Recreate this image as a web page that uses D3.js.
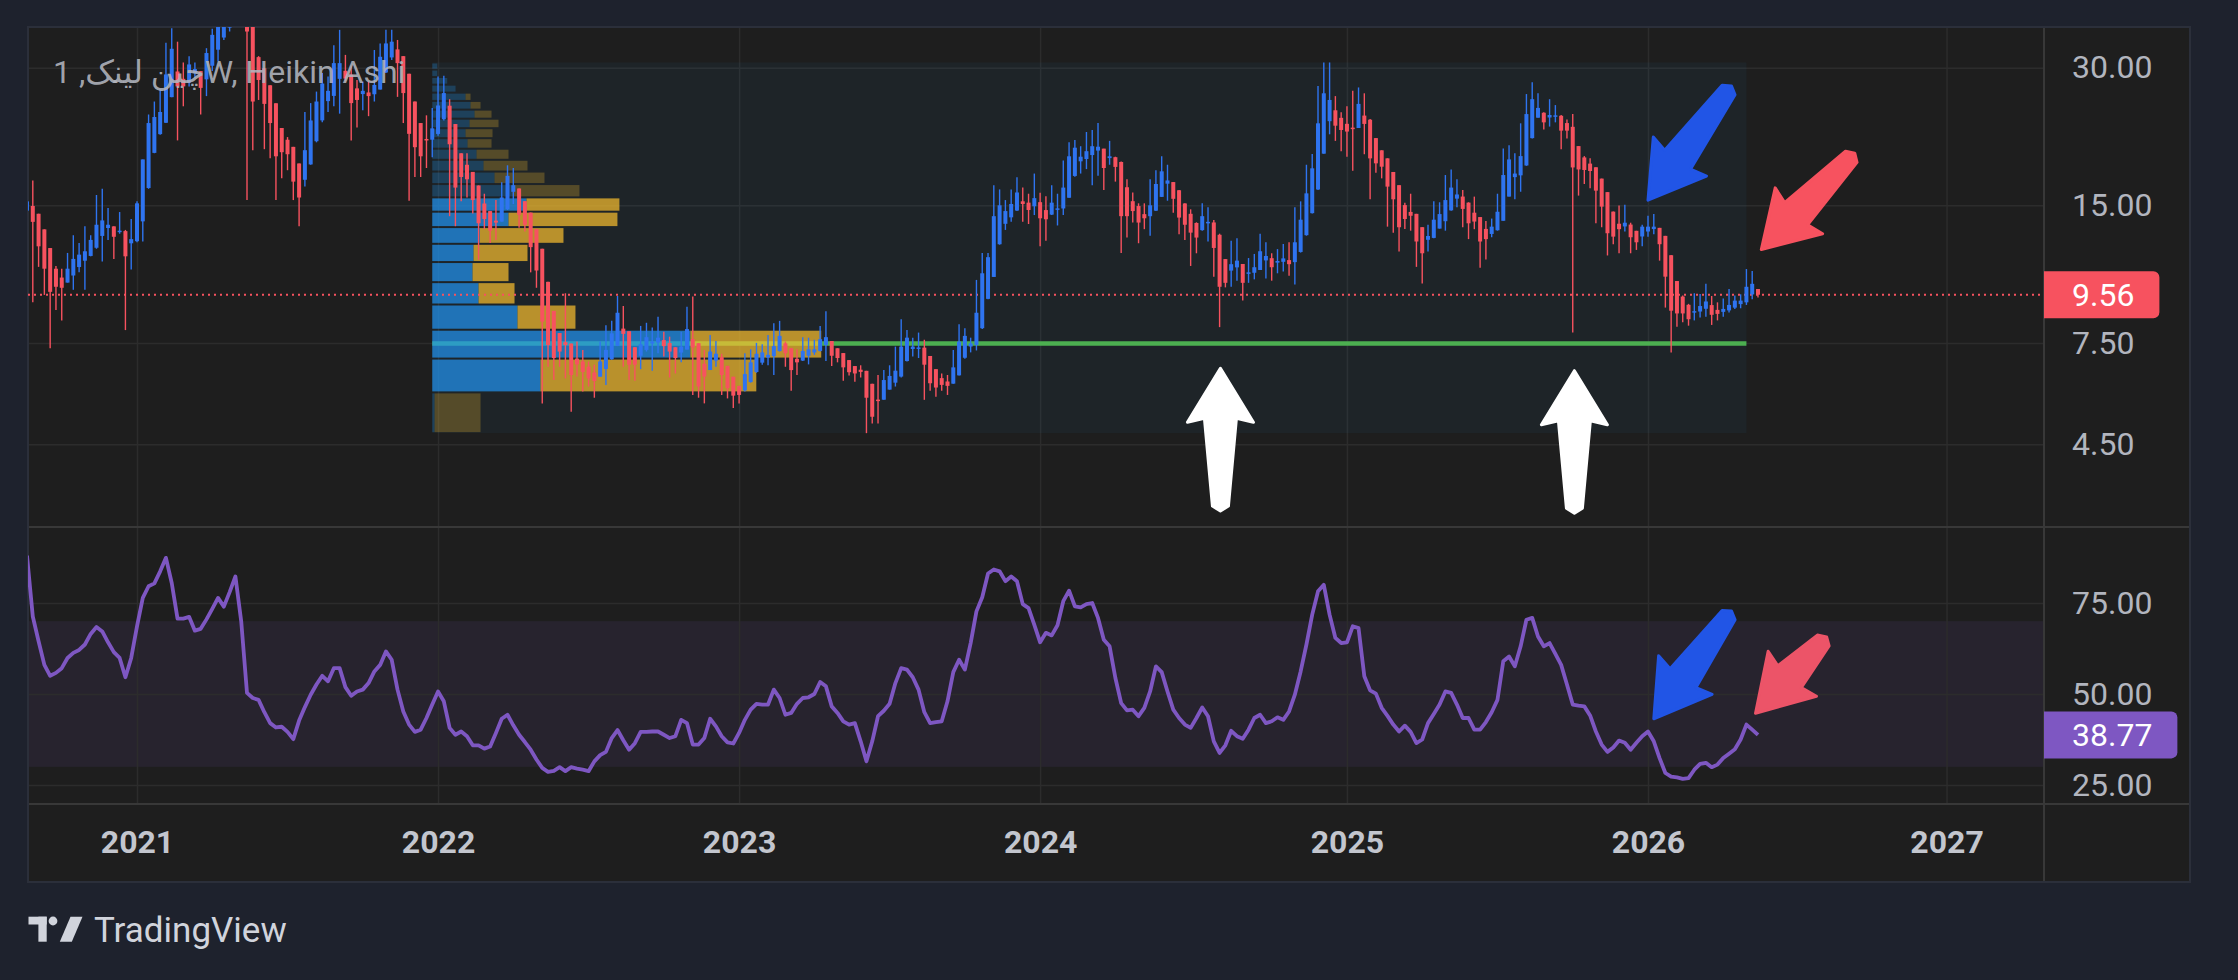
<!DOCTYPE html>
<html>
<head>
<meta charset="utf-8">
<script src="https://cdn.jsdelivr.net/npm/d3@7"></script>
<style>
  body { margin: 0; background: #1e222d; }
  svg { display: block; }
  text { font-family: Roboto, "Noto Sans", "DejaVu Sans", sans-serif; }
</style>
</head>
<body>
<svg id="chart" width="2238" height="980"></svg>
<script>
// ---- data (weekly Heikin Ashi) ----
var firstWeek = "2020-08-24";
var firstOpen = 14.6;

var haClose = [
  15.3, 13.8, 12.2, 10.9, 9.7, 9.95, 9.9, 10.9, 11.45, 11.7,
  11.9, 12.6, 13.6, 13.9, 13.6, 12.8, 13.2, 11.6, 12.65, 15.15,
  18.9, 22.7, 23.4, 24.0, 29.0, 33.0, 27.3, 27.3, 30.5, 29.8,
  27.1, 32.3, 35.4, 37, 38.5, 39, 40, 41, 36, 25.3,
  28.2, 25.0, 22.7, 19.2, 19.6, 19.4, 16.9, 15.6, 19.8, 23.0,
  25.3, 27.7, 26.7, 30.7, 30.7, 28.4, 25.1, 25.5, 26.7, 26.0,
  27.5, 31.7, 33.9, 34.2, 30.7, 26.4, 21.5, 20.1, 19.2, 20.8,
  22.1, 24.8, 26.4, 20.4, 16.4, 17.3, 17.1, 15.4, 13.7, 14.0,
  13.2, 13.75, 15.6, 17.4, 16.6, 14.3, 13.6, 12.15, 10.8, 8.35,
  7.42, 6.95, 7.18, 7.42, 6.38, 6.73, 6.48, 6.27, 6.19, 6.83,
  7.24, 7.87, 8.73, 7.85, 6.72, 6.72, 7.45, 7.72, 7.55, 7.7,
  7.38, 7.18, 6.95, 7.36, 8.04, 7.33, 6.02, 6.33, 7.18, 7.1,
  6.38, 5.97, 5.75, 5.77, 6.41, 6.8, 7.1, 7.15, 7.06, 7.38,
  7.77, 7.12, 6.54, 6.8, 7.2, 7.26, 7.26, 7.64, 7.72, 7.03,
  6.95, 6.63, 6.47, 6.43, 6.48, 5.69, 5.17, 5.63, 6.22, 6.35,
  6.52, 7.36, 7.7, 7.36, 7.33, 6.72, 6.12, 5.99, 6.07, 6.04,
  6.63, 7.55, 7.77, 7.48, 8.73, 10.65, 11.55, 14.2, 15.0, 14.57,
  15.1, 16.0, 15.1, 14.65, 15.55, 14.05, 13.98, 15.2, 14.77, 16.4,
  19.2, 20.05, 19.16, 19.7, 20.2, 20.15, 18.1, 19.2, 18.2, 14.2,
  14.2, 14.57, 13.75, 14.05, 15.0, 16.7, 17.8, 17.0, 15.5, 14.1,
  13.6, 13.07, 12.75, 14.2, 13.8, 12.1, 9.95, 10.15, 11.15, 11.35,
  10.15, 10.7, 10.98, 11.9, 11.62, 10.98, 11.33, 11.48, 11.15, 12.45,
  13.95, 15.93, 18.07, 22.67, 26.37, 25.5, 22.4, 21.92, 21.75, 22.1,
  25.0, 22.6, 19.0, 18.53, 18.22, 16.48, 15.46, 13.43, 14.0, 14.23,
  12.5, 11.78, 12.85, 13.95, 14.35, 15.4, 16.4, 15.84, 14.73, 13.7,
  13.82, 12.5, 12.65, 13.47, 14.52, 17.47, 18.9, 17.6, 19.22, 23.75,
  25.6, 24.5, 22.78, 23.64, 23.6, 21.85, 21.85, 18.15, 17.97, 17.92,
  17.83, 16.15, 14.9, 13.03, 12.81, 13.3, 13.74, 12.77, 12.45, 13.47,
  13.47, 13.47, 12.33, 10.47, 8.82, 8.7, 8.7, 8.45, 8.8, 9.03,
  9.24, 8.64, 8.68, 8.9, 9.08, 9.28, 9.28, 9.95, 10.1, 9.56
];

var haHigh = [
  15.8, 17.0, 12.2, 10.9, 9.7, 11.05, 10.9, 11.8, 12.9, 12.4,
  13.5, 12.9, 15.8, 16.3, 14.8, 13.5, 14.5, 13.25, 14.0, 15.3,
  18.9, 23.7, 25.3, 26.9, 34.0, 36.6, 34.2, 30.8, 31.8, 30.8,
  29.3, 33.1, 36.5, 38, 40, 41, 42, 43, 40.5, 38,
  31.8, 25.0, 22.7, 19.2, 19.6, 21.15, 16.9, 15.6, 24.0, 25.1,
  26.6, 29.2, 28.7, 33.6, 36.3, 32.0, 30.2, 28.2, 28.0, 28.0,
  32.8, 33.9, 36.3, 36.3, 34.5, 31.4, 21.5, 20.1, 19.2, 23.6,
  24.5, 28.7, 28.8, 25.6, 16.4, 17.3, 19.5, 15.4, 13.7, 15.9,
  13.2, 15.4, 16.85, 18.35, 18.1, 16.25, 13.6, 12.15, 10.8, 8.35,
  7.42, 6.95, 7.18, 9.63, 6.38, 7.55, 7.24, 6.83, 6.72, 7.55,
  8.2, 8.38, 9.5, 9.03, 6.72, 7.33, 8.17, 8.3, 8.1, 8.56,
  7.93, 7.74, 6.95, 7.93, 9.0, 9.47, 6.02, 7.24, 7.8, 7.57,
  7.1, 5.97, 5.75, 6.04, 7.12, 7.26, 7.5, 7.45, 7.8, 8.28,
  8.38, 7.55, 6.54, 7.26, 7.72, 7.7, 7.62, 8.17, 8.8, 7.57,
  6.95, 6.63, 6.47, 6.43, 6.7, 5.69, 5.17, 6.38, 6.54, 6.7,
  7.36, 8.45, 8.0, 7.7, 7.9, 7.62, 6.12, 5.99, 6.43, 6.38,
  7.24, 8.24, 8.07, 7.7, 10.3, 11.8, 11.8, 16.6, 16.25, 15.4,
  16.25, 17.27, 16.4, 15.9, 17.6, 15.98, 15.7, 16.6, 15.9, 18.8,
  20.6, 20.85, 20.2, 21.7, 21.92, 22.7, 19.9, 20.75, 19.16, 18.7,
  17.1, 16.0, 15.15, 15.15, 17.1, 17.9, 19.2, 18.4, 16.85, 16.2,
  15.15, 14.7, 13.77, 15.15, 14.85, 13.93, 13.0, 11.4, 12.55, 12.7,
  11.15, 11.5, 11.74, 13.0, 12.45, 11.78, 12.03, 12.35, 12.45, 14.85,
  15.3, 18.4, 19.42, 27.35, 30.8, 30.8, 26.0, 23.96, 24.7, 26.7,
  27.16, 26.37, 23.16, 18.53, 18.22, 16.48, 15.46, 13.43, 15.2, 15.9,
  12.5, 11.78, 13.6, 15.3, 15.23, 17.47, 17.97, 17.1, 16.2, 15.23,
  15.67, 14.1, 13.86, 14.03, 15.9, 19.98, 20.3, 19.5, 22.67, 26.27,
  27.87, 26.37, 23.96, 25.6, 24.85, 23.64, 23.1, 23.75, 17.97, 19.22,
  19.0, 16.15, 14.9, 13.03, 12.81, 14.98, 15.05, 13.74, 12.45, 13.6,
  14.23, 14.35, 13.32, 12.85, 11.68, 10.24, 9.52, 9.13, 9.63, 9.6,
  10.1, 9.5, 9.2, 9.38, 9.84, 9.52, 9.58, 10.88, 10.77, 9.84
];

var haLow = [
  14.6, 9.2, 11.0, 9.55, 7.3, 8.85, 8.4, 10.2, 9.8, 10.7,
  9.8, 11.6, 12.05, 11.3, 12.6, 11.45, 13.0, 8.0, 10.85, 12.45,
  12.5, 16.3, 19.5, 21.4, 22.7, 26.0, 20.8, 24.7, 27.3, 28.5,
  23.7, 26.0, 29.5, 31, 34.5, 36, 37.5, 39, 15.4, 19.8,
  25.5, 19.9, 19.0, 15.4, 17.2, 17.9, 15.4, 13.5, 16.5, 18.4,
  20.6, 22.8, 24.0, 24.7, 23.8, 28.0, 20.8, 22.2, 24.2, 23.5,
  25.3, 27.5, 29.2, 31.2, 25.9, 22.7, 15.35, 17.3, 17.3, 18.1,
  19.1, 21.3, 23.0, 14.2, 13.5, 15.3, 15.6, 14.4, 11.4, 13.3,
  12.4, 12.6, 13.8, 14.65, 15.1, 13.4, 13.15, 10.7, 9.9, 5.53,
  6.65, 6.22, 6.65, 6.27, 5.3, 6.33, 5.87, 6.02, 5.69, 6.33,
  6.07, 6.89, 7.38, 6.65, 6.22, 6.2, 6.57, 7.18, 6.52, 7.12,
  7.0, 6.3, 6.43, 6.8, 7.26, 5.77, 5.69, 5.53, 6.54, 6.65,
  5.77, 5.67, 5.4, 5.53, 5.87, 6.14, 6.45, 6.72, 6.7, 6.38,
  7.18, 6.65, 5.89, 6.38, 6.85, 6.73, 7.06, 7.18, 6.85, 6.68,
  6.8, 6.2, 6.36, 6.17, 6.3, 4.76, 5.0, 5.0, 5.64, 5.94,
  6.02, 6.3, 6.83, 7.0, 6.95, 5.63, 5.89, 5.72, 5.89, 5.77,
  6.12, 6.36, 6.92, 7.15, 7.22, 8.04, 9.35, 10.47, 12.3, 13.25,
  13.8, 14.57, 13.8, 13.65, 14.28, 12.2, 12.55, 14.28, 13.55, 14.28,
  15.6, 17.33, 17.6, 18.0, 16.6, 17.4, 16.2, 18.4, 16.9, 11.8,
  12.75, 13.75, 12.39, 13.3, 12.87, 14.57, 15.67, 15.35, 14.45, 12.96,
  12.6, 11.05, 11.78, 13.2, 12.5, 10.47, 8.12, 9.92, 9.95, 10.26,
  9.28, 10.15, 10.33, 10.83, 10.38, 10.26, 10.65, 10.74, 10.52, 10.07,
  11.82, 12.87, 14.4, 16.2, 19.5, 21.45, 20.75, 19.7, 19.16, 17.86,
  22.17, 19.4, 15.46, 17.68, 17.18, 13.47, 13.07, 11.88, 13.32, 13.2,
  11.0, 10.12, 11.88, 12.7, 13.35, 13.2, 14.6, 14.85, 13.43, 12.65,
  13.3, 10.95, 11.42, 12.77, 13.2, 13.88, 15.67, 15.46, 16.06, 18.3,
  21.0, 23.3, 21.97, 22.3, 22.78, 19.9, 21.0, 7.9, 15.75, 16.7,
  16.34, 13.7, 13.43, 11.65, 12.33, 11.78, 13.14, 11.78, 11.98, 12.2,
  12.81, 12.96, 11.35, 8.96, 7.15, 8.14, 8.32, 8.18, 8.4, 8.52,
  8.56, 8.21, 8.4, 8.56, 8.74, 8.9, 8.93, 9.08, 9.35, 9.43
];

var rsiValues = [
  88, 71.3, 64.5, 58, 55, 55.8, 57.1, 59.9, 61.3, 62.1,
  63.6, 66.5, 68.4, 67.2, 64.2, 61.5, 59.9, 54.6, 59.9, 68.6,
  76.4, 79.6, 80.4, 83.7, 87.4, 80.5, 70.7, 70.7, 71.2, 67.4,
  67.9, 70.5, 73.4, 76.4, 74, 78, 82.3, 70, 50.3, 48.9,
  48.4, 45, 42, 40.8, 41, 39.6, 37.6, 42.7, 46.4, 49.8,
  52.6, 55, 53.5, 57.1, 57.1, 51.9, 49.5, 50.7, 51.2, 53,
  56.2, 58, 61.7, 59.4, 51.2, 45.2, 41.6, 39.6, 40.2, 43.4,
  47.1, 50.7, 48, 40.7, 38.8, 39.7, 38.4, 35.9, 35.9, 35,
  35.6, 39.3, 43.2, 44.3, 41.4, 38.8, 36.8, 34.7, 32, 29.7,
  28.6, 28.9, 29.9, 28.8, 29.9, 29.5, 29.2, 28.8, 31.5, 33.2,
  34.1, 37.9, 40.1, 37.3, 34.7, 36.5, 39.6, 39.6, 39.7, 39.7,
  38.8, 37.9, 38.4, 42.9, 42, 36.1, 36.1, 37.9, 43.2, 41.1,
  38.4, 36.7, 36.4, 39.3, 42.9, 45.7, 47.3, 47.1, 47.1, 51.2,
  48.9, 44.3, 44.8, 47.3, 48.9, 49.1, 50, 53.3, 52.1, 46.6,
  44.8, 42.5, 41.6, 42, 37, 31.5, 37, 43.9, 45.4, 47.3,
  53, 57.1, 56.7, 54.6, 51.2, 45, 42, 42.3, 42.5, 48,
  56, 59.4, 56.7, 64, 72.7, 76.6, 83.1, 84.2, 83.7, 81,
  82.3, 81, 74.7, 73.6, 69, 64.2, 66.8, 66.1, 68.9, 75.5,
  78.4, 74.1, 73.8, 74.7, 75, 70.9, 64.9, 63.1, 54.4, 47.5,
  45.5, 45.7, 43.9, 46.2, 50.7, 57.6, 56, 50.7, 45.7, 43.4,
  41.6, 40.7, 43.4, 46.3, 43.9, 37, 33.8, 35.9, 39.9, 38.4,
  37.7, 40.2, 43.4, 44.3, 42, 42.5, 43.6, 42.9, 45.2, 49.8,
  56.2, 63.6, 71.8, 78.2, 80, 71.8, 65.4, 64, 64.2, 68.6,
  68.1, 54.9, 51, 50.1, 46.2, 44, 41.6, 39.7, 41.3, 39.6,
  36.5, 37.5, 42, 44.5, 47.1, 50.7, 50.3, 47.1, 43.4, 43.4,
  40.2, 40.2, 42.3, 45, 48.4, 59, 60.3, 57.6, 63.1, 70.4,
  70.9, 65.8, 63.1, 64, 61, 58, 52.6, 47.1, 46.8, 46.6,
  44.1, 39.7, 36.1, 34.1, 35.3, 37.2, 36.6, 34.7, 36.6, 38.4,
  39.7, 37, 32.4, 28.3, 27.3, 27.1, 26.7, 26.9, 29.2, 30.8,
  31.1, 29.9, 30.6, 32.4, 33.6, 34.8, 37.5, 41.6, 40.2, 38.77
];

// fixed range volume profile, rows from lowest price up
var vpStart = "2021-12-27";
var vpEnd = "2026-05-04";
var vpLow = 4.76;
var vpHigh = 30.8;
var vpUp   = [7, 325, 775, 256, 139, 121, 124, 143, 229, 283, 240, 187, 154, 133, 106, 100, 112, 127, 115, 100, 70, 45, 15, 15];
var vpDown = [138, 648, 393, 174, 108, 108, 162, 251, 327, 279, 202, 150, 132, 96, 72, 81, 87, 51, 30, 15, 0, 0, 0, 0];
var vpValueArea = [1, 9];
var vpPocRow = 2;

var priceTicks = [30, 15, 7.5, 4.5];
var rsiTicks = [75, 50, 25];
var yearTicks = ["2021-01-04", "2022-01-03", "2023-01-02", "2024-01-01", "2025-01-06", "2026-01-05", "2027-01-01"];
var lastPrice = 9.56;
var lastRsi = 38.77;
var rsiBand = [30, 70];
var title = "چین لینک, 1W, Heikin Ashi";

// drawn arrows: tail -> tip, in time / value
var priceArrows = [
  {tail: ["2024-08-06", 3.215], tip: ["2024-08-06", 6.6], color: "#ffffff"},
  {tail: ["2025-10-08", 3.18], tip: ["2025-10-08", 6.52], color: "#ffffff"},
  {tail: ["2026-04-16", 27.35], tip: ["2026-01-05", 15.4], color: "#2155e6"},
  {tail: ["2026-09-12", 19.5], tip: ["2026-05-22", 12.0], color: "#f7525f"}
];
var rsiArrows = [
  {tail: ["2026-04-16", 72.8], tip: ["2026-01-12", 43.2], color: "#2155e6"},
  {tail: ["2026-08-09", 65.7], tip: ["2026-05-15", 44.7], color: "#ec5468"}
];

// ---- layout ----
var frame = {l: 28, t: 27, r: 2190, b: 882};
var plotR = 2044;
var priceBottom = 527;
var rsiBottom = 804;
var upColor = "#2f74f0", downColor = "#f7525f";
var gridColor = "#2c2c2c", lineColor = "#383838", axisText = "#b2b5be";

var parse = d3.timeParse("%Y-%m-%d");
var svg = d3.select("#chart");

var x = d3.scaleTime()
    .domain([parse("2021-01-04"), parse("2026-01-05")])
    .range([137, 1648]);
var yPrice = d3.scaleLog().domain([4.5, 30]).range([444.3, 67.7]);
var yRsi = d3.scaleLinear().domain([25, 75]).range([785, 603]);

var start = parse(firstWeek);
var candles = [];
var open = firstOpen;
for (var i = 0; i < haClose.length; i++) {
    if (i > 0) open = (candles[i - 1].o + candles[i - 1].c) / 2;
    candles.push({
        date: d3.timeWeek.offset(start, i),
        o: open, c: haClose[i], h: haHigh[i], l: haLow[i], rsi: rsiValues[i]
    });
}

// backgrounds
svg.append("rect").attr("width", 2238).attr("height", 980).attr("fill", "#1e222d");
svg.append("rect")
    .attr("x", frame.l).attr("y", frame.t)
    .attr("width", frame.r - frame.l).attr("height", frame.b - frame.t)
    .attr("fill", "#1e1e1e");

var defs = svg.append("defs");
defs.append("clipPath").attr("id", "clipPrice").append("rect")
    .attr("x", frame.l).attr("y", frame.t).attr("width", plotR - frame.l).attr("height", priceBottom - frame.t);
defs.append("clipPath").attr("id", "clipRsi").append("rect")
    .attr("x", frame.l).attr("y", priceBottom).attr("width", plotR - frame.l).attr("height", rsiBottom - priceBottom);

// rsi band under the grid
svg.append("rect")
    .attr("x", frame.l).attr("width", plotR - frame.l)
    .attr("y", yRsi(rsiBand[1])).attr("height", yRsi(rsiBand[0]) - yRsi(rsiBand[1]))
    .attr("fill", "rgba(126,87,194,0.1)");

// axes + grid
function styleAxis(g) {
    g.select(".domain").remove();
    g.selectAll(".tick line").attr("stroke", gridColor).attr("stroke-width", 1.5);
    g.selectAll(".tick text").attr("fill", axisText).attr("font-size", 32);
}

svg.append("g")
    .attr("transform", "translate(0," + rsiBottom + ")")
    .call(d3.axisBottom(x)
        .tickValues(yearTicks.map(parse))
        .tickFormat(d3.timeFormat("%Y"))
        .tickSize(-(rsiBottom - frame.t))
        .tickPadding(26))
    .call(styleAxis)
    .call(function(g) {
        g.selectAll(".tick text").attr("font-weight", 700).attr("fill", "#c3c6ce");
    });

svg.append("g")
    .attr("transform", "translate(" + plotR + ",0)")
    .call(d3.axisRight(yPrice)
        .tickValues(priceTicks)
        .tickFormat(d3.format(".2f"))
        .tickSize(-(plotR - frame.l))
        .tickPadding(28))
    .call(styleAxis);

svg.append("g")
    .attr("transform", "translate(" + plotR + ",0)")
    .call(d3.axisRight(yRsi)
        .tickValues(rsiTicks)
        .tickFormat(d3.format(".2f"))
        .tickSize(-(plotR - frame.l))
        .tickPadding(28))
    .call(styleAxis);

// panel separators and frame
var seps = [
    [frame.l, priceBottom, frame.r, priceBottom],
    [frame.l, rsiBottom, frame.r, rsiBottom],
    [plotR, frame.t, plotR, frame.b]
];
svg.selectAll("line.sep").data(seps).enter().append("line")
    .attr("class", "sep")
    .attr("x1", function(d) { return d[0]; }).attr("y1", function(d) { return d[1]; })
    .attr("x2", function(d) { return d[2]; }).attr("y2", function(d) { return d[3]; })
    .attr("stroke", lineColor).attr("stroke-width", 2);
svg.append("rect")
    .attr("x", frame.l).attr("y", frame.t)
    .attr("width", frame.r - frame.l).attr("height", frame.b - frame.t)
    .attr("fill", "none").attr("stroke", "#2b2f3a").attr("stroke-width", 2);

// ---- price panel ----
var pricePane = svg.append("g").attr("clip-path", "url(#clipPrice)");

// volume profile
var vpX0 = x(parse(vpStart)), vpX1 = x(parse(vpEnd));
pricePane.append("rect")
    .attr("x", vpX0).attr("width", vpX1 - vpX0)
    .attr("y", yPrice(vpHigh)).attr("height", yPrice(vpLow) - yPrice(vpHigh))
    .attr("fill", "rgba(33,150,243,0.05)");

var rowStep = (vpHigh - vpLow) / vpUp.length;
var rows = vpUp.map(function(u, k) {
    return {up: u, down: vpDown[k], lo: vpLow + k * rowStep, hi: vpLow + (k + 1) * rowStep,
            inVA: k >= vpValueArea[0] && k <= vpValueArea[1]};
});
var vpW = d3.scaleLinear()
    .domain([0, d3.max(rows, function(r) { return r.up + r.down; })])
    .range([0, (vpX1 - vpX0) * 0.296]);

var pocPrice = (rows[vpPocRow].lo + rows[vpPocRow].hi) / 2;
pricePane.append("line")
    .attr("x1", vpX0).attr("x2", vpX1)
    .attr("y1", yPrice(pocPrice)).attr("y2", yPrice(pocPrice))
    .attr("stroke", "#4caf50").attr("stroke-width", 4.5);

var rowG = pricePane.selectAll("g.vprow").data(rows).enter().append("g").attr("class", "vprow");
rowG.append("rect")
    .attr("x", vpX0)
    .attr("y", function(r) { return yPrice(r.hi) + 1; })
    .attr("height", function(r) { return yPrice(r.lo) - yPrice(r.hi) - 2; })
    .attr("width", function(r) { return vpW(r.up); })
    .attr("fill", "#2196f3")
    .attr("fill-opacity", function(r) { return r.inVA ? 0.7 : 0.25; });
rowG.append("rect")
    .attr("x", function(r) { return vpX0 + vpW(r.up); })
    .attr("y", function(r) { return yPrice(r.hi) + 1; })
    .attr("height", function(r) { return yPrice(r.lo) - yPrice(r.hi) - 2; })
    .attr("width", function(r) { return vpW(r.down); })
    .attr("fill", "#fbc02d")
    .attr("fill-opacity", function(r) { return r.inVA ? 0.7 : 0.25; });

// last price line
pricePane.append("line")
    .attr("x1", frame.l).attr("x2", plotR)
    .attr("y1", yPrice(lastPrice)).attr("y2", yPrice(lastPrice))
    .attr("stroke", downColor).attr("stroke-width", 2).attr("stroke-dasharray", "2 4");

// candles
var bodyW = 4;
var cg = pricePane.selectAll("g.candle").data(candles).enter().append("g").attr("class", "candle");
cg.append("line")
    .attr("x1", function(d) { return x(d.date); }).attr("x2", function(d) { return x(d.date); })
    .attr("y1", function(d) { return yPrice(Math.max(d.h, d.o, d.c)); })
    .attr("y2", function(d) { return yPrice(Math.min(d.l, d.o, d.c)); })
    .attr("stroke", function(d) { return d.c >= d.o ? upColor : downColor; })
    .attr("stroke-width", 1.4);
cg.append("rect")
    .attr("x", function(d) { return x(d.date) - bodyW / 2; })
    .attr("width", bodyW)
    .attr("y", function(d) { return yPrice(Math.max(d.o, d.c)); })
    .attr("height", function(d) { return Math.max(1.5, yPrice(Math.min(d.o, d.c)) - yPrice(Math.max(d.o, d.c))); })
    .attr("fill", function(d) { return d.c >= d.o ? upColor : downColor; });

// title
svg.append("text")
    .attr("x", 53).attr("y", 83)
    .attr("font-size", 32)
    .attr("fill", "#b2b5be")
    .attr("fill-opacity", 0.9)
    .text(title);

// ---- rsi panel ----
var rsiPane = svg.append("g").attr("clip-path", "url(#clipRsi)");
rsiPane.append("path")
    .datum(candles)
    .attr("d", d3.line().x(function(d) { return x(d.date); }).y(function(d) { return yRsi(d.rsi); }))
    .attr("fill", "none")
    .attr("stroke", "#7e57c2")
    .attr("stroke-width", 3.8)
    .attr("stroke-linejoin", "round");

// ---- arrows ----
function arrowPoints(len) {
    return [[0, 0], [54, -33], [50, -16], [len - 5, -8], [len, 0], [len - 5, 8], [50, 16], [54, 33]];
}
function drawArrows(layer, list, yScale) {
    list.forEach(function(a) {
        var tx = x(parse(a.tip[0])), ty = yScale(a.tip[1]);
        var sx = x(parse(a.tail[0])), sy = yScale(a.tail[1]);
        var len = Math.hypot(sx - tx, sy - ty);
        var ang = Math.atan2(sy - ty, sx - tx) * 180 / Math.PI;
        layer.append("polygon")
            .attr("points", arrowPoints(len).map(function(p) { return p.join(","); }).join(" "))
            .attr("transform", "translate(" + tx + "," + ty + ") rotate(" + ang + ")")
            .attr("fill", a.color)
            .attr("stroke", a.color)
            .attr("stroke-width", 3)
            .attr("stroke-linejoin", "round");
    });
}
var arrowLayer = svg.append("g");
drawArrows(arrowLayer, priceArrows, yPrice);
drawArrows(arrowLayer, rsiArrows, yRsi);

// ---- value labels on the scale ----
function valueLabel(val, yScale, color, fmt) {
    var g = svg.append("g");
    var t = g.append("text")
        .attr("x", plotR + 28).attr("y", yScale(val))
        .attr("dy", "0.35em")
        .attr("font-size", 32).attr("fill", "#ffffff")
        .text(fmt(val));
    var w = t.node().getComputedTextLength() + 28 + 25;
    var h = 47, r = 6, y0 = yScale(val) - h / 2;
    var p = d3.path();
    p.moveTo(plotR, y0);
    p.lineTo(plotR + w - r, y0);
    p.arcTo(plotR + w, y0, plotR + w, y0 + r, r);
    p.lineTo(plotR + w, y0 + h - r);
    p.arcTo(plotR + w, y0 + h, plotR + w - r, y0 + h, r);
    p.lineTo(plotR, y0 + h);
    p.closePath();
    g.insert("path", "text").attr("d", p.toString()).attr("fill", color);
}
valueLabel(lastPrice, yPrice, "#f7525f", d3.format(".2f"));
valueLabel(lastRsi, yRsi, "#7e57c2", d3.format(".2f"));

// ---- TradingView mark ----
var logo = svg.append("g").attr("fill", "#d1d4dc");
logo.append("rect").attr("x", 28.5).attr("y", 916.7).attr("width", 18.2).attr("height", 7.8);
logo.append("rect").attr("x", 38.4).attr("y", 916.7).attr("width", 8.3).attr("height", 25);
logo.append("circle").attr("cx", 53).attr("cy", 921).attr("r", 4.4);
logo.append("polygon").attr("points", "70.5,916.7 82.5,916.7 71.8,941.7 59.8,941.7");
logo.append("text")
    .attr("x", 94).attr("y", 942)
    .attr("font-size", 35)
    .attr("font-weight", 400)
    .text("TradingView");
</script>
</body>
</html>
